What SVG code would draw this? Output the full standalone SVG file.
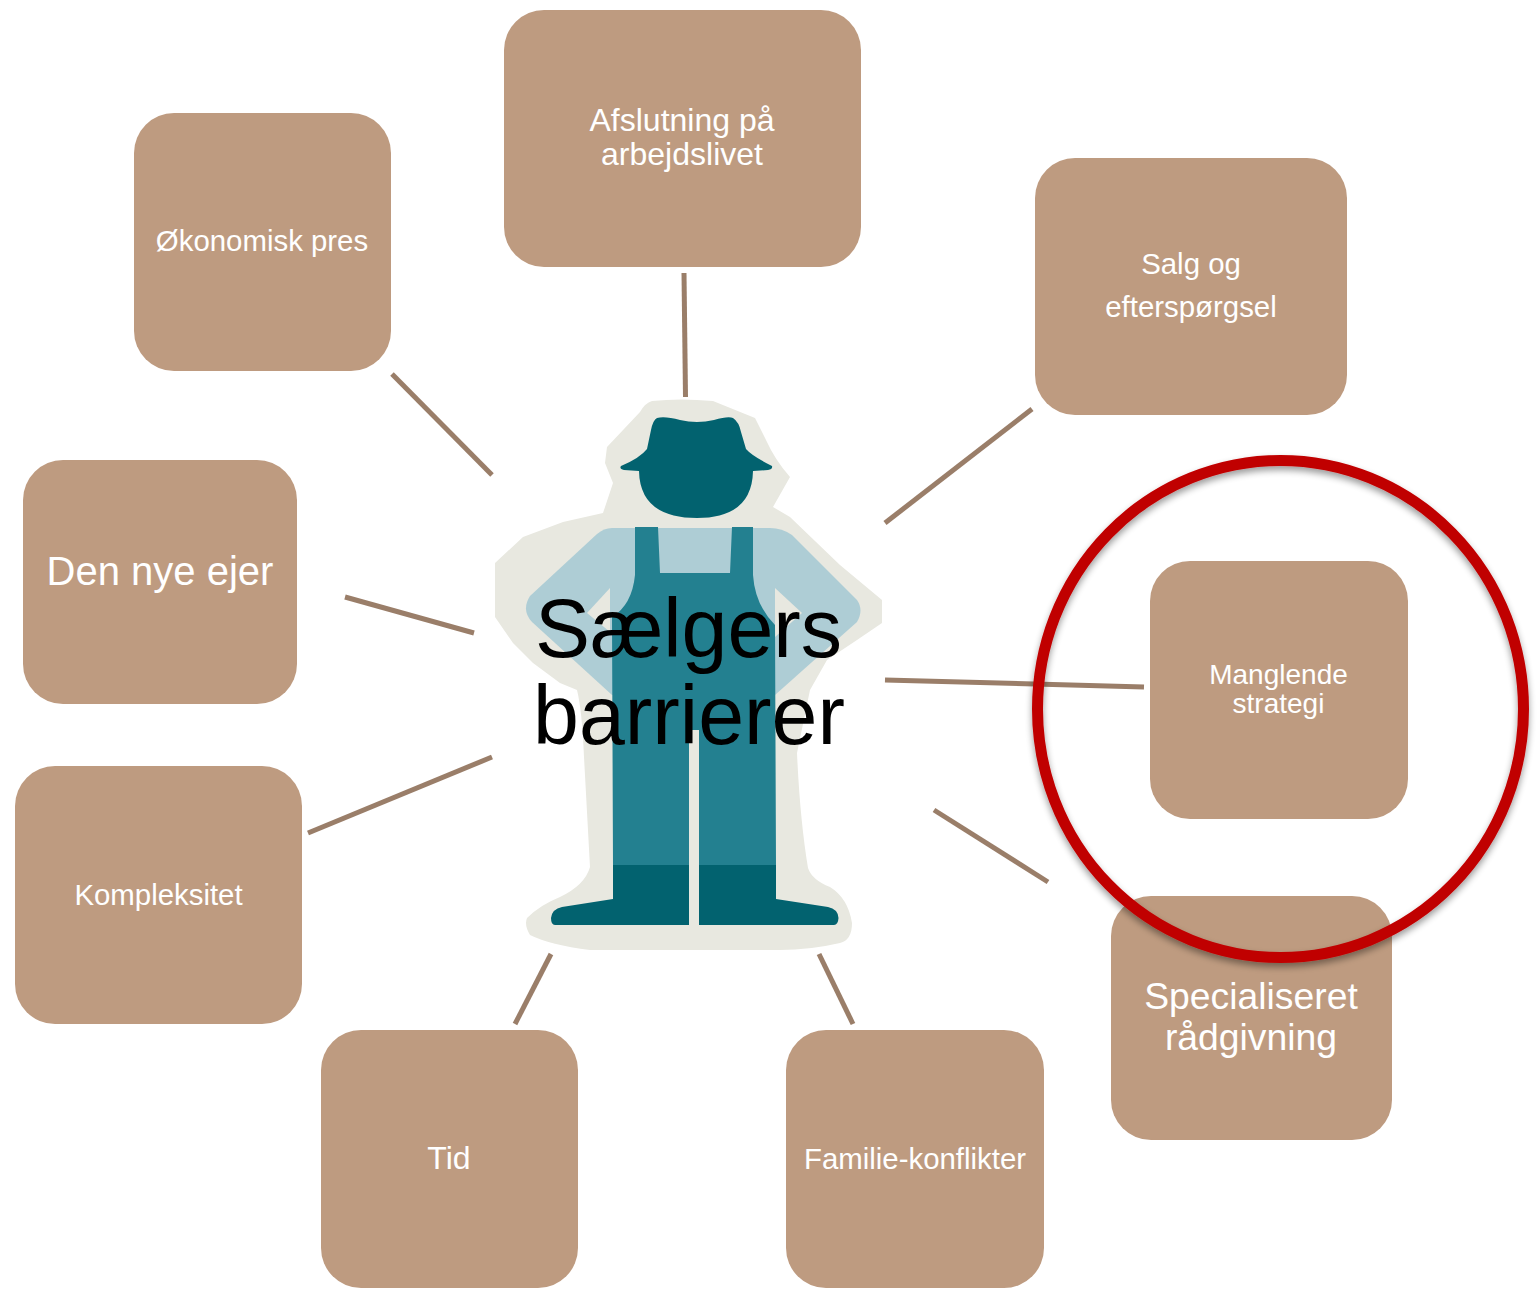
<svg xmlns="http://www.w3.org/2000/svg" width="1537" height="1289" viewBox="0 0 1537 1289">
<style>
.box{fill:#BE9B80}
.c{stroke:#9A7E69;stroke-width:5;fill:none}
text{font-family:"Liberation Sans",Arial,sans-serif;text-anchor:middle}
.l{fill:#fff}
.halo{fill:#E8E8E0}
.dark{fill:#02626F}
.mid{fill:#238090}
.lite{fill:#AECDD5}
</style>
<defs>
<filter id="sh" x="-10%" y="-10%" width="120%" height="120%"><feGaussianBlur in="SourceAlpha" stdDeviation="3.500"/><feOffset dy="4" dx="0"/><feComponentTransfer><feFuncA type="linear" slope="0.4"/></feComponentTransfer><feMerge><feMergeNode/><feMergeNode in="SourceGraphic"/></feMerge></filter>
</defs>
<rect width="1537" height="1289" fill="#fff"/>
<g id="figure">
<path class="halo" d="M652 401Q680 398 713 401L755 418L766 440Q775 460 790 477L773 507L790 517L840 565L882 600L882 623L857 640L827 660L810 690L797 753Q800 820 808 868Q812 880 830 887Q848 898 852 923Q852 940 840 943Q810 950 780 950L590 950Q550 945 530 935Q524 925 527 918Q540 905 560 897Q585 885 590 867L584 757Q582 710 577 690L560 683L533 663L513 643L495 617L495 563L523 537L563 522L603 513L613 483L605 463L607 447L640 412Q645 403 652 401Z"/>
<path class="lite" d="M612 528L770 528Q782 528 792 535L857 600Q864 610 857 622L775 695L612 695L532 622Q521 610 530 596L597 534Q604 528 612 528Z"/>
<path class="halo" d="M610 588L587 613L610 632Z"/>
<path class="halo" d="M775 588L802 613L775 637Z"/>
<path class="mid" d="M635 527L658 527L660 573L730 573L732 527L753 527L753 575Q755 605 775 625L776 865L699 865L699 730L689 730L689 865L613 865L612 617Q632 605 635 575Z"/>
<path class="dark" d="M613 865L689 865L689 925L555 925Q551 925 551 918Q552 909 562 907L613 899Z"/>
<path class="dark" d="M699 865L776 865L776 899L828 907Q838 909 838.500 918Q838 925 834 925L699 925Z"/>
<path class="dark" d="M657 418Q665 416 680 420Q697 424 714 420Q728 416 733 418Q739 422 741 432L746 449Q752 456 772 466Q773 469 768 470L753 471Q752 518 697 518Q640 518 639 471L624 470Q619 469 621 466Q640 458 647 449L651 430Q653 420 657 418Z"/>
</g>
<g id="connectors">
<line class="c" x1="684" y1="273" x2="685.500" y2="397"/>
<line class="c" x1="392" y1="374" x2="492" y2="475"/>
<line class="c" x1="1032" y1="409" x2="885" y2="523"/>
<line class="c" x1="345" y1="597" x2="474" y2="633"/>
<line class="c" x1="885" y1="680" x2="1144" y2="687"/>
<line class="c" x1="308" y1="833" x2="492" y2="757"/>
<line class="c" x1="934" y1="810" x2="1048" y2="882"/>
<line class="c" x1="515" y1="1024" x2="551" y2="954"/>
<line class="c" x1="853" y1="1024" x2="819" y2="954"/>
</g>
<g id="n-afslutning"><rect class="box" x="504" y="10" width="357" height="257" rx="40"/><text class="l" font-size="32" x="682" y="131">Afslutning på</text><text class="l" font-size="32" x="682" y="165">arbejdslivet</text></g>
<g id="n-okonomisk"><rect class="box" x="134" y="113" width="257" height="258" rx="40"/><text class="l" font-size="29.400" x="262" y="251">Økonomisk pres</text></g>
<g id="n-salg"><rect class="box" x="1035" y="158" width="312" height="257" rx="40"/><text class="l" font-size="29.400" x="1191" y="274">Salg og</text><text class="l" font-size="29.400" x="1191" y="316.500">efterspørgsel</text></g>
<g id="n-manglende"><rect class="box" x="1150" y="561" width="258" height="258" rx="40"/><text class="l" font-size="28" x="1278.500" y="684">Manglende</text><text class="l" font-size="28" x="1278.500" y="713">strategi</text></g>
<g id="n-specialiseret"><rect class="box" x="1111" y="896" width="281" height="244" rx="40"/><text class="l" font-size="37.300" x="1251" y="1009">Specialiseret</text><text class="l" font-size="37.300" x="1251" y="1050">rådgivning</text></g>
<g id="n-familie"><rect class="box" x="786" y="1030" width="258" height="258" rx="40"/><text class="l" font-size="29.400" x="915" y="1168.500">Familie-konflikter</text></g>
<g id="n-tid"><rect class="box" x="321" y="1030" width="257" height="258" rx="40"/><text class="l" font-size="32" x="449" y="1169">Tid</text></g>
<g id="n-kompleksitet"><rect class="box" x="15" y="766" width="287" height="258" rx="40"/><text class="l" font-size="29.400" x="158.500" y="904.500">Kompleksitet</text></g>
<g id="n-ejer"><rect class="box" x="23" y="460" width="274" height="244" rx="40"/><text class="l" font-size="40" x="160" y="585">Den nye ejer</text></g>
<g id="n-center"><text font-size="82.500" x="688.500" y="657" fill="#000">Sælgers</text><text font-size="82.500" x="689" y="744" fill="#000">barrierer</text></g>
<ellipse id="highlight" cx="1280.500" cy="709" rx="243" ry="248.500" fill="none" stroke="#C00000" stroke-width="11" filter="url(#sh)"/>
</svg>
